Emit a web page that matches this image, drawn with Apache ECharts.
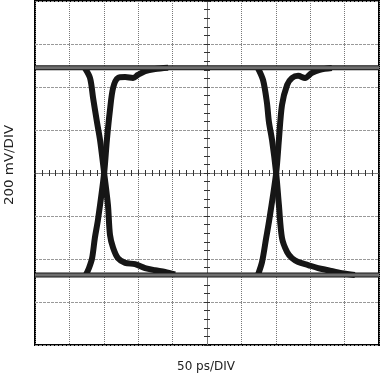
<!DOCTYPE html>
<html>
<head>
<meta charset="utf-8">
<script src="https://cdn.jsdelivr.net/npm/echarts@6/dist/echarts.min.js"></script>
<style>
  html, body { margin: 0; padding: 0; background: #fff; }
  #chart { width: 380px; height: 376px; }
</style>
</head>
<body>
<div id="chart"></div>
<script>
// units are divisions: x 50 ps/DIV, y 200 mV/DIV, 0 at screen centre
var highLevel = [[-5, 2.45], [5, 2.45]]
var lowLevel = [[-5, -2.37], [5, -2.37]]

// first crossing (left)
var fall1 = [[-3.55, 2.44], [-3.40, 2.21], [-3.31, 1.74], [-3.20, 1.19], [-3.11, 0.77], [-2.99, 0],
  [-2.88, -0.74], [-2.82, -1.44], [-2.73, -1.74], [-2.59, -1.98], [-2.38, -2.09], [-2.09, -2.12],
  [-1.80, -2.21], [-1.51, -2.26], [-1.22, -2.30], [-0.93, -2.36]]
var rise1 = [[-3.52, -2.37], [-3.43, -2.21], [-3.34, -1.98], [-3.26, -1.51], [-3.17, -1.09], [-2.99, 0],
  [-2.91, 0.77], [-2.82, 1.47], [-2.73, 1.98], [-2.59, 2.21], [-2.38, 2.23], [-2.15, 2.21],
  [-2.01, 2.28], [-1.80, 2.37], [-1.51, 2.42], [-1.13, 2.45]]

// second crossing (right)
var fall2 = [[1.48, 2.44], [1.63, 2.16], [1.74, 1.65], [1.80, 1.19], [1.89, 0.77], [2.01, 0],
  [2.09, -0.74], [2.18, -1.51], [2.33, -1.84], [2.47, -1.98], [2.65, -2.07], [2.94, -2.14],
  [3.23, -2.21], [3.52, -2.26], [3.92, -2.33], [4.30, -2.37]]
var rise2 = [[1.48, -2.37], [1.60, -2.07], [1.72, -1.51], [1.80, -1.14], [2.01, 0],
  [2.09, 0.77], [2.18, 1.58], [2.33, 2.05], [2.47, 2.21], [2.65, 2.26], [2.85, 2.21],
  [3.05, 2.33], [3.28, 2.40], [3.63, 2.44]]

var xLabel = '50 ps/DIV'
var yLabel = '200 mV/DIV'

var chart = echarts.init(document.getElementById('chart'))

function edge(data) {
  return {
    type: 'line',
    data: data,
    symbol: 'none',
    smooth: 0.3,
    xAxisIndex: 0,
    yAxisIndex: 0,
    lineStyle: { color: '#161616', width: 6 },
    z: 4
  }
}
function level(data, color, width, z) {
  return {
    type: 'line',
    data: data,
    symbol: 'none',
    xAxisIndex: 0,
    yAxisIndex: 0,
    lineStyle: { color: color, width: width },
    z: z
  }
}

// centre cross axes only carry the small ticks
function tickAxisX(pos) {
  return {
    type: 'value', position: pos, min: -5, max: 5, interval: 0.2,
    axisLine: { show: true, onZero: true, onZeroAxisIndex: 0, lineStyle: { color: '#777', type: [1, 1], width: 1 } },
    axisTick: { show: true, inside: true, length: 3, lineStyle: { color: '#333', width: 1 } },
    axisLabel: { show: false },
    splitLine: { show: false }
  }
}
function tickAxisY(pos) {
  return {
    type: 'value', position: pos, min: -4, max: 4, interval: 0.2,
    axisLine: { show: true, onZero: true, onZeroAxisIndex: 0, lineStyle: { color: '#777', type: [1, 1], width: 1 } },
    axisTick: { show: true, inside: true, length: 3, lineStyle: { color: '#333', width: 1 } },
    axisLabel: { show: false },
    splitLine: { show: false }
  }
}

chart.setOption({
  animation: false,
  grid: {
    left: 35, top: 1, width: 344, height: 344,
    show: true, borderColor: '#000', borderWidth: 2, backgroundColor: '#fff'
  },
  xAxis: [
    {
      type: 'value', min: -5, max: 5, interval: 1,
      axisLine: { show: false }, axisTick: { show: false }, axisLabel: { show: false },
      splitLine: { show: true, lineStyle: { color: '#777', type: [1, 1], width: 1 } }
    },
    tickAxisX('bottom'),
    tickAxisX('top')
  ],
  yAxis: [
    {
      type: 'value', min: -4, max: 4, interval: 1,
      axisLine: { show: false }, axisTick: { show: false }, axisLabel: { show: false },
      splitLine: { show: true, lineStyle: { color: '#999', type: [3, 1], width: 1 } }
    },
    tickAxisY('left'),
    tickAxisY('right')
  ],
  graphic: [
    {
      type: 'text', x: 10, y: 165, rotation: Math.PI / 2, scaleX: 1.12,
      style: { text: yLabel, fill: '#222', font: '12px "DejaVu Sans"', textAlign: 'center', textVerticalAlign: 'middle' }
    },
    {
      type: 'text', x: 206, y: 367,
      style: { text: xLabel, fill: '#222', font: '12px "DejaVu Sans"', textAlign: 'center', textVerticalAlign: 'middle' }
    }
  ],
  series: [
    level(highLevel, '#161616', 5, 3),
    level(lowLevel, '#161616', 5, 3),
    edge(fall1),
    edge(rise1),
    edge(fall2),
    edge(rise2),
    level(highLevel, '#6e6e6e', 3, 5),
    level(lowLevel, '#6e6e6e', 3, 5)
  ]
})
</script>
</body>
</html>
